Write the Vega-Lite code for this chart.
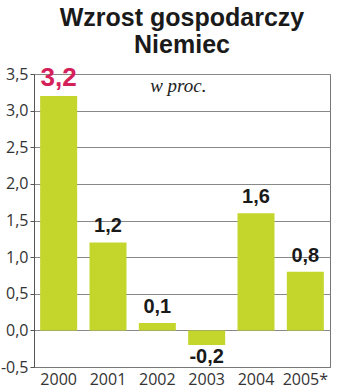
{
  "$schema": "https://vega.github.io/schema/vega-lite/v6.json",
  "width": 296,
  "height": 293,
  "autosize": "none",
  "padding": {"left": 34, "top": 74, "right": 20, "bottom": 24},
  "background": "white",
  "title": {
    "text": ["Wzrost gospodarczy", "Niemiec"],
    "font": "Liberation Sans",
    "fontSize": 25,
    "fontWeight": "bold",
    "lineHeight": 27,
    "color": "#1a1a1a",
    "anchor": "middle",
    "offset": 7
  },
  "config": {
    "view": {"stroke": "#777777", "strokeWidth": 1},
    "axis": {"labelFont": "Open Sans", "labelFontSize": 16, "labelColor": "#333333", "title": null}
  },
  "data": {
    "values": [
      {"year": "2000", "value": 3.2, "label": "3,2"},
      {"year": "2001", "value": 1.2, "label": "1,2"},
      {"year": "2002", "value": 0.1, "label": "0,1"},
      {"year": "2003", "value": -0.2, "label": "-0,2"},
      {"year": "2004", "value": 1.6, "label": "1,6"},
      {"year": "2005*", "value": 0.8, "label": "0,8"}
    ]
  },
  "encoding": {
    "x": {
      "field": "year",
      "type": "nominal",
      "sort": null,
      "scale": {"paddingInner": 0.25, "paddingOuter": 0.125},
      "axis": {"labelAngle": 0, "ticks": false, "domainColor": "#777777", "labelPadding": 4}
    },
    "y": {
      "field": "value",
      "type": "quantitative",
      "scale": {"domain": [-0.5, 3.5], "nice": false, "zero": false},
      "axis": {
        "values": [-0.5, 0, 0.5, 1, 1.5, 2, 2.5, 3, 3.5],
        "labelExpr": "replace(replace(format(datum.value, '.1f'), '.', ','), '\u2212', '-')",
        "grid": true,
        "gridColor": "#888888",
        "domainColor": "#555555",
        "tickColor": "#555555",
        "tickSize": 4,
        "labelPadding": 2
      }
    }
  },
  "layer": [
    {
      "mark": {"type": "bar", "color": "#c4d52c"},
      "encoding": {"y2": {"datum": 0}}
    },
    {
      "transform": [{"filter": "datum.value >= 0"}],
      "mark": {"type": "text", "font": "Liberation Sans", "fontWeight": "bold", "baseline": "alphabetic", "dy": -10},
      "encoding": {
        "text": {"field": "label"},
        "color": {"condition": {"test": "datum.value > 3", "value": "#d4215a"}, "value": "#1a1a1a"},
        "size": {"condition": {"test": "datum.value > 3", "value": 26}, "value": 20}
      }
    },
    {
      "transform": [{"filter": "datum.value < 0"}],
      "mark": {"type": "text", "font": "Liberation Sans", "fontWeight": "bold", "baseline": "alphabetic", "dy": 18, "fontSize": 20, "color": "#1a1a1a"},
      "encoding": {
        "text": {"field": "label"}
      }
    },
    {
      "transform": [{"filter": "datum.year == '2002'"}],
      "mark": {"type": "text", "text": "w proc.", "font": "Liberation Serif", "fontStyle": "italic", "fontSize": 19, "color": "#222222", "baseline": "alphabetic", "align": "center", "dx": 21},
      "encoding": {
        "y": {"datum": 3.26}
      }
    }
  ]
}
